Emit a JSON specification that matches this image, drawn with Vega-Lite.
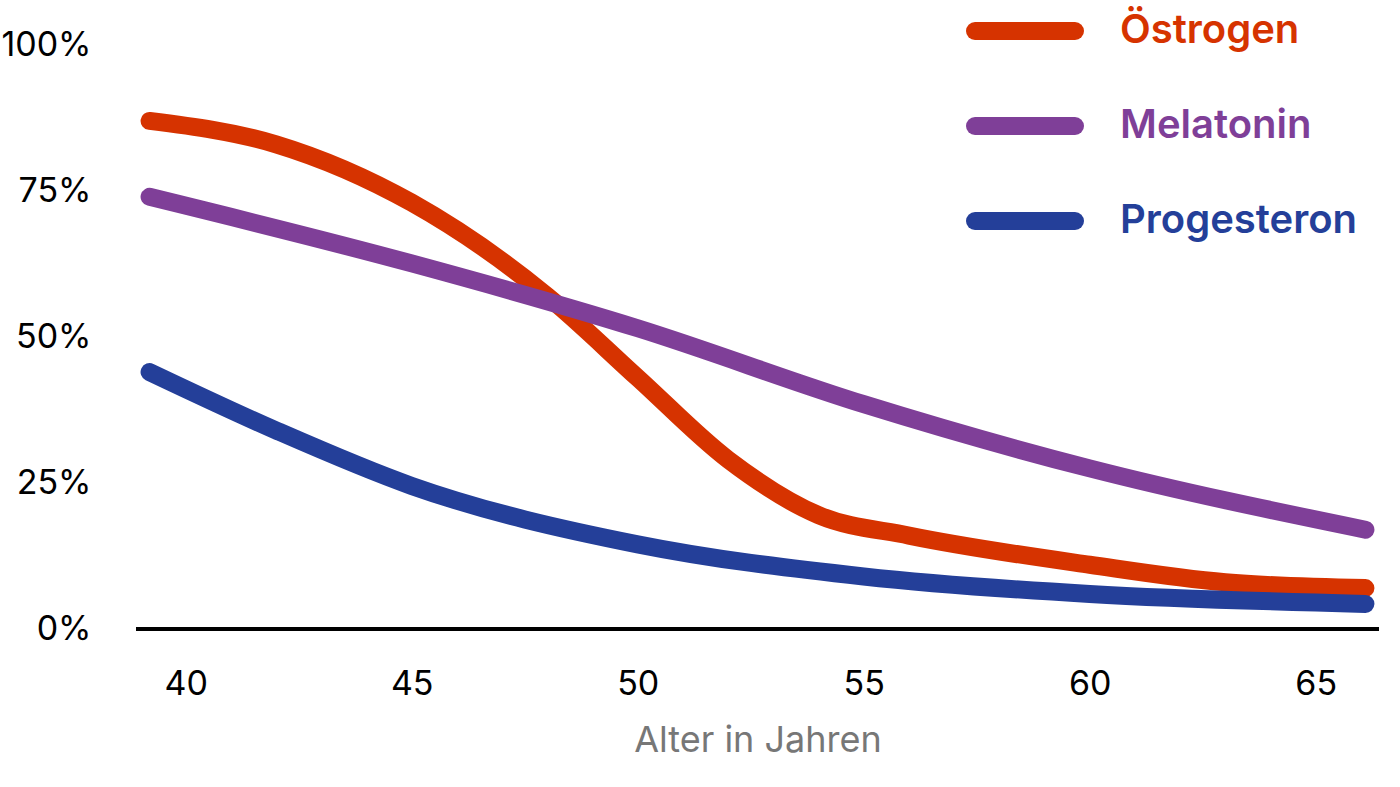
{
  "$schema": "https://vega.github.io/schema/vega-lite/v6.json",
  "width": 1400,
  "height": 787,
  "autosize": {"type": "fit", "contains": "padding"},
  "padding": {"left": 0, "top": 28, "right": 0, "bottom": 29},
  "background": "white",
  "config": {"font": "Inter", "view": {"stroke": null}},
  "data": {
    "values": [
      {"alter": 39.2, "wert": 87, "hormon": "Östrogen"},
      {"alter": 42, "wert": 83, "hormon": "Östrogen"},
      {"alter": 45, "wert": 73, "hormon": "Östrogen"},
      {"alter": 48, "wert": 57, "hormon": "Östrogen"},
      {"alter": 50, "wert": 43, "hormon": "Östrogen"},
      {"alter": 52, "wert": 29, "hormon": "Östrogen"},
      {"alter": 54, "wert": 19.5, "hormon": "Östrogen"},
      {"alter": 56, "wert": 16, "hormon": "Östrogen"},
      {"alter": 60, "wert": 11, "hormon": "Östrogen"},
      {"alter": 63, "wert": 8, "hormon": "Östrogen"},
      {"alter": 66.1, "wert": 7, "hormon": "Östrogen"},
      {"alter": 39.2, "wert": 74, "hormon": "Melatonin"},
      {"alter": 45, "wert": 62.6, "hormon": "Melatonin"},
      {"alter": 50, "wert": 51.5, "hormon": "Melatonin"},
      {"alter": 55, "wert": 38.5, "hormon": "Melatonin"},
      {"alter": 60, "wert": 27.5, "hormon": "Melatonin"},
      {"alter": 66.1, "wert": 17, "hormon": "Melatonin"},
      {"alter": 39.2, "wert": 44, "hormon": "Progesteron"},
      {"alter": 42, "wert": 34, "hormon": "Progesteron"},
      {"alter": 45, "wert": 24.5, "hormon": "Progesteron"},
      {"alter": 50, "wert": 14.5, "hormon": "Progesteron"},
      {"alter": 55, "wert": 9, "hormon": "Progesteron"},
      {"alter": 60, "wert": 6, "hormon": "Progesteron"},
      {"alter": 66.1, "wert": 4.3, "hormon": "Progesteron"}
    ]
  },
  "layer": [
    {
      "mark": {"type": "rule", "color": "black", "strokeWidth": 3},
      "encoding": {"y": {"datum": 0}}
    },
    {
      "mark": {"type": "line", "strokeWidth": 18, "strokeCap": "round", "interpolate": "monotone"},
      "encoding": {
        "x": {
          "field": "alter", "type": "quantitative",
          "scale": {"domain": [38.9, 66.4], "nice": false, "zero": false},
          "axis": {"values": [40, 45, 50, 55, 60, 65], "grid": false, "domain": false, "ticks": false,
            "labelFontSize": 34, "labelColor": "black", "labelPadding": 38,
            "title": "Alter in Jahren", "titleFontSize": 36, "titleFontWeight": "normal", "titleColor": "#777777", "titlePadding": 22}
        },
        "y": {
          "field": "wert", "type": "quantitative",
          "scale": {"domain": [0, 100], "nice": false},
          "axis": {"values": [0, 25, 50, 75, 100], "grid": false, "domain": false, "ticks": false,
            "labelFontSize": 34, "labelColor": "black", "labelPadding": 45,
            "labelExpr": "datum.value + '%'", "title": null}
        },
        "color": {
          "field": "hormon", "type": "nominal",
          "scale": {"domain": ["Östrogen", "Melatonin", "Progesteron"], "range": ["#d63300", "#7f3f98", "#243f99"]},
          "legend": {
            "orient": "none", "legendX": 830, "legendY": -73, "title": null,
            "symbolType": "stroke", "symbolSize": 10000, "symbolStrokeWidth": 18,
            "labelFontSize": 40, "labelFontWeight": 600, "labelOffset": 36, "labelLimit": 0, "rowPadding": 0,
            "encode": {"labels": {"update": {"fill": {"signal": "scale('color', datum.value)"}}},
              "symbols": {"update": {"strokeCap": {"value": "round"}}}}
          }
        },
        "sort": null
      }
    }
  ]
}
